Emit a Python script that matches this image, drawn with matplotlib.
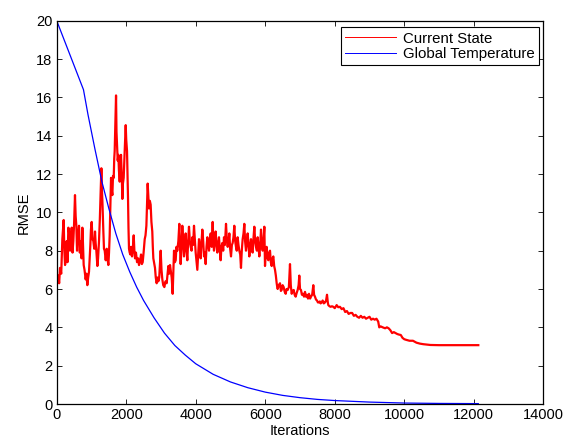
import matplotlib
matplotlib.use("Agg")
import matplotlib.pyplot as plt

# ---- data ----
state_iter = [0, 20, 47, 70, 95, 130, 162, 200, 220, 240, 265, 287, 310, 335, 360, 383, 405, 431, 455, 478,
              500, 526, 545, 565, 585, 603, 620, 642, 665, 690, 715, 738, 755, 776, 800, 833, 855, 881, 905, 929,
              950, 968, 985, 1006, 1030, 1054, 1080, 1102, 1120, 1140, 1170, 1190, 1217, 1240, 1256, 1270, 1285,
              1300, 1314, 1330, 1342, 1360, 1381, 1410, 1438, 1460, 1486, 1505, 1524, 1545, 1563, 1580, 1601,
              1620, 1640, 1655, 1668, 1685, 1707, 1720, 1735, 1755, 1774, 1790, 1812, 1830, 1850, 1870, 1889,
              1905, 1927, 1945, 1956, 1970, 1985, 2000, 2023, 2040, 2052, 2065, 2080, 2100, 2119, 2140, 2167,
              2190, 2215, 2235, 2253, 2280, 2311, 2340, 2368, 2400, 2426, 2450, 2474, 2500, 2532, 2555, 2580,
              2600, 2617, 2635, 2655, 2680, 2703, 2725, 2750, 2765, 2780, 2800, 2828, 2850, 2876, 2900, 2924,
              2950, 2970, 2991, 3015, 3039, 3065, 3097, 3130, 3164, 3190, 3212, 3235, 3260, 3285, 3308, 3336,
              3355, 3375, 3400, 3423, 3445, 3470, 3500, 3528, 3545, 3566, 3590, 3614, 3640, 3662, 3685, 3710,
              3735, 3758, 3780, 3806, 3830, 3854, 3880, 3902, 3925, 3950, 3975, 3998, 4020, 4046, 4070, 4094,
              4120, 4142, 4165, 4190, 4215, 4238, 4262, 4286, 4310, 4334, 4358, 4382, 4405, 4430, 4460, 4487,
              4505, 4525, 4550, 4573, 4597, 4621, 4645, 4669, 4690, 4717, 4740, 4765, 4790, 4813, 4840, 4871,
              4895, 4919, 4945, 4967, 4990, 5015, 5040, 5062, 5085, 5110, 5135, 5158, 5180, 5206, 5230, 5254,
              5280, 5302, 5325, 5350, 5375, 5398, 5420, 5446, 5470, 5494, 5520, 5542, 5565, 5590, 5615, 5638,
              5660, 5686, 5710, 5734, 5760, 5782, 5805, 5830, 5855, 5878, 5900, 5926, 5950, 5974, 5993, 6015,
              6041, 6065, 6089, 6115, 6137, 6160, 6185, 6210, 6233, 6257, 6281, 6305, 6329, 6345, 6357, 6390,
              6425, 6450, 6472, 6500, 6530, 6560, 6588, 6615, 6645, 6680, 6712, 6735, 6760, 6790, 6818, 6845,
              6875, 6905, 6933, 6960, 6980, 7000, 7028, 7055, 7086, 7115, 7144, 7170, 7201, 7230, 7259, 7290,
              7316, 7350, 7383, 7405, 7431, 7460, 7489, 7515, 7546, 7570, 7594, 7625, 7652, 7685, 7719, 7750,
              7777, 7800, 7815, 7850, 7882, 7920, 7959, 8000, 8055, 8100, 8150, 8200, 8250, 8300, 8350, 8400,
              8450, 8500, 8550, 8600, 8650, 8700, 8750, 8800, 8850, 8900, 8950, 9000, 9050, 9100, 9150, 9200,
              9250, 9280, 9320, 9380, 9450, 9500, 9550, 9600, 9650, 9700, 9750, 9800, 9850, 9900, 9950, 10000,
              10050, 10150, 10250, 10350, 10450, 10550, 10650, 10750, 11000, 11500, 12130]
state_rmse = [6.9, 6.4, 6.7, 6.3, 7.1, 6.8, 8.6, 9.6, 8.0, 7.25, 7.6, 8.5, 7.4, 9.2, 8.9, 8.0, 8.5, 9.2, 7.9, 8.5,
              9.4, 10.9, 9.8, 9.3, 8.0, 8.6, 8.9, 9.3, 7.9, 8.5, 7.6, 9.2, 8.4, 7.25, 7.0, 6.5, 6.8, 6.2, 6.6, 6.9,
              7.6, 8.3, 9.1, 9.5, 8.6, 8.5, 8.1, 9.0, 8.4, 8.0, 7.2, 7.6, 8.5, 9.6, 10.6, 11.5, 12.3,
              11.2, 10.6, 9.6, 9.0, 8.1, 8.0, 7.5, 8.1, 7.6, 7.25, 7.9, 8.8, 10.5, 11.8, 11.2, 10.9,
              11.9, 11.8, 12.8, 13.2, 14.5, 16.1, 14.2, 13.5, 12.7, 13.0, 12.2, 11.6, 12.3, 13.0, 12.0, 10.7,
              11.5, 11.8, 12.6, 13.2, 13.9, 14.55, 13.8, 13.2, 11.8, 10.7, 9.2, 8.1, 7.9, 7.8, 8.2, 7.7,
              8.1, 8.8, 8.0, 7.6, 7.9, 7.4, 7.6, 7.25, 7.5, 7.8, 7.3, 7.4, 7.9, 8.6, 8.8, 9.3,
              10.4, 11.5, 10.9, 10.2, 10.6, 10.4, 9.5, 9.0, 8.2, 7.6, 7.4, 7.1, 6.6, 6.3, 6.6, 6.4,
              6.6, 7.3, 8.0, 7.0, 6.5, 6.2, 6.1, 6.4, 6.3, 6.8, 7.2, 6.8, 7.25, 6.9, 6.6, 5.75,
              6.8, 8.0, 7.4, 7.5, 8.2, 8.0, 8.5, 9.4, 8.3, 7.3, 8.2, 9.3, 8.4, 7.7, 8.3, 8.9,
              8.0, 7.5, 8.4, 9.25, 8.5, 8.2, 8.0, 8.7, 8.3, 9.3, 8.6, 7.9, 7.5, 7.0, 7.8, 8.6,
              8.2, 7.6, 8.4, 9.1, 8.5, 7.7, 7.9, 7.3, 8.2, 8.7, 8.3, 8.0, 8.5, 8.9, 8.2, 9.5,
              8.6, 8.0, 8.5, 9.0, 8.3, 7.9, 8.4, 8.7, 8.1, 7.5, 8.2, 8.4, 8.0, 8.7, 8.3, 9.4,
              8.6, 8.2, 8.5, 8.9, 8.1, 7.7, 8.3, 8.4, 8.7, 9.3, 8.5, 8.2, 8.0, 8.7, 8.3, 8.0,
              7.8, 7.1, 8.0, 8.6, 8.9, 9.4, 8.5, 8.0, 8.4, 8.9, 8.3, 7.7, 8.2, 8.6, 8.0, 7.9,
              8.6, 9.25, 8.5, 8.2, 8.0, 8.7, 8.2, 7.7, 8.3, 9.1, 8.4, 8.0, 8.5, 9.25, 7.2, 7.9,
              8.2, 7.6, 7.5, 7.9, 8.0, 7.4, 7.2, 7.6, 7.7, 7.2, 7.0, 6.7, 6.3, 6.1, 6.0, 6.2,
              6.3, 5.9, 5.95, 6.2, 6.1, 5.85, 5.75, 6.0, 5.95, 6.1, 7.3, 6.2, 5.75, 5.9, 5.95, 5.7,
              5.6, 5.8, 5.95, 6.2, 6.7, 6.0, 5.95, 5.7, 5.75, 5.6, 5.85, 5.6, 5.7, 5.5, 5.75, 5.5,
              5.6, 5.7, 6.2, 5.7, 5.6, 5.45, 5.4, 5.3, 5.3, 5.35, 5.25, 5.3, 5.4, 5.25, 5.3, 5.4,
              5.7, 5.3, 5.16, 5.1, 5.07, 5.1, 5.07, 5.0, 5.16, 5.05, 5.07, 4.95, 5.0, 4.8, 4.85, 4.7,
              4.75, 4.75, 4.6, 4.65, 4.55, 4.5, 4.6, 4.5, 4.55, 4.45, 4.5, 4.55, 4.4, 4.45, 4.4, 4.45,
              4.3, 4.0, 4.05, 4.0, 3.95, 4.0, 3.95, 3.85, 3.7, 3.75, 3.7, 3.65, 3.62, 3.6, 3.45, 3.38,
              3.35, 3.3, 3.3, 3.2, 3.15, 3.12, 3.1, 3.08, 3.07, 3.07, 3.07]

temp_iter = [0, 770, 900, 1100, 1300, 1500, 1700, 1900, 2100, 2300, 2500, 2800, 3100, 3400, 3700, 4000,
             4500, 5000, 5500, 6000, 6500, 7000, 7500, 8000, 9000, 10000, 11000, 12130]
temp_rmse = [20.0, 16.4, 15.1, 13.3, 11.6, 10.2, 8.9, 7.8, 6.9, 6.1, 5.4, 4.5, 3.7, 3.05, 2.55, 2.1,
             1.55, 1.15, 0.85, 0.62, 0.45, 0.33, 0.24, 0.18, 0.10, 0.05, 0.03, 0.02]

x_ticks = [0, 2000, 4000, 6000, 8000, 10000, 12000, 14000]
y_ticks = [0, 2, 4, 6, 8, 10, 12, 14, 16, 18, 20]
series_labels = ["Current State", "Global Temperature"]
x_label = "Iterations"
y_label = "RMSE"

# ---- plotting ----
plt.rcParams['font.family'] = ['Liberation Sans', 'DejaVu Sans']
fig = plt.figure(figsize=(5.74, 4.41), dpi=100)
ax = fig.add_axes([0.0988, 0.0839, 0.8477, 0.8692])

ax.plot(state_iter, state_rmse, color=(1, 0, 0), linewidth=1.6, label=series_labels[0])
ax.plot(temp_iter, temp_rmse, color=(0, 0, 1), linewidth=0.9, label=series_labels[1])

ax.set_xlim(0, 14000)
ax.set_ylim(0, 20)
ax.set_xticks(x_ticks)
ax.set_yticks(y_ticks)
ax.tick_params(direction='in', length=3.6, width=0.6, top=True, right=True,
               labelsize=10.5, colors='black', pad=3)
for s in ax.spines.values():
    s.set_linewidth(0.9)
ax.set_xlabel(x_label, fontsize=10.5, labelpad=1)
ax.set_ylabel(y_label, fontsize=10.5, labelpad=4)

leg = ax.legend(loc='upper right', bbox_to_anchor=(0.992, 0.983), borderaxespad=0,
                fancybox=False, framealpha=1, edgecolor='black', fontsize=10.8,
                handlelength=3.4, handletextpad=0.45, labelspacing=0.08, borderpad=0.3)
leg.get_frame().set_linewidth(0.8)
for h in leg.get_lines():
    h.set_linewidth(0.7)

fig.savefig("out.png", dpi=100)
